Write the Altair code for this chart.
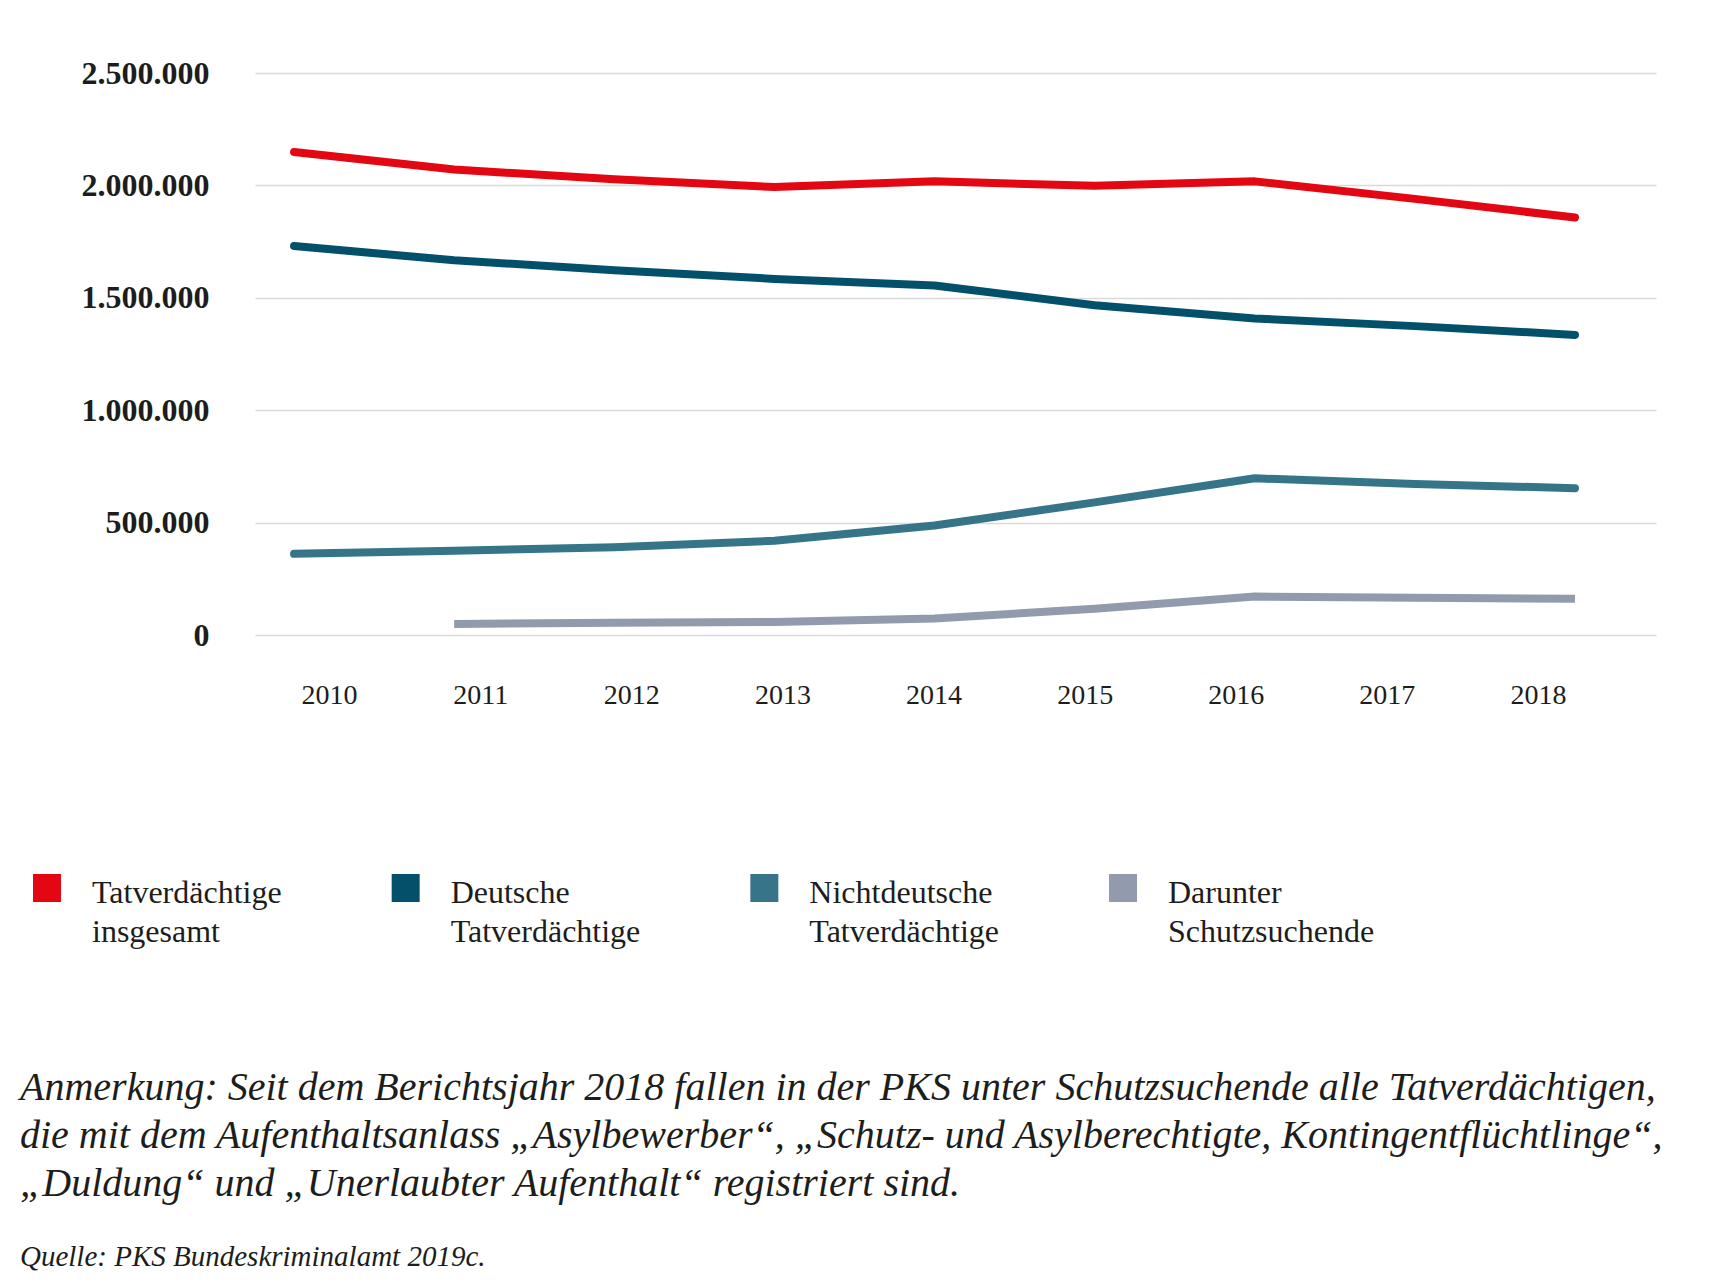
import altair as alt
import pandas as pd

years = [2010, 2011, 2012, 2013, 2014, 2015, 2016, 2017, 2018]
series_names = ["Tatverdächtige insgesamt", "Deutsche Tatverdächtige",
                "Nichtdeutsche Tatverdächtige", "Darunter Schutzsuchende"]
legend_labels = ["Tatverdächtige\ninsgesamt", "Deutsche\nTatverdächtige",
                 "Nichtdeutsche\nTatverdächtige", "Darunter\nSchutzsuchende"]
total = [2149000, 2071000, 2027000, 1993000, 2018000, 1998000, 2018000, 1940000, 1857000]
german = [1730000, 1667000, 1623000, 1584000, 1555000, 1467000, 1408000, 1374000, 1335000]
nongerman = [361000, 375000, 390000, 419000, 487000, 590000, 697000, 672000, 653000]
protection = [None, 49000, 54000, 58000, 73000, 117000, 171000, 166000, 161000]
colors = ["#E30613", "#03506B", "#367489", "#919BAD"]
y_ticks = [0, 500000, 1000000, 1500000, 2000000, 2500000]

note_lines = [
    "Anmerkung: Seit dem Berichtsjahr 2018 fallen in der PKS unter Schutzsuchende alle Tatverdächtigen,",
    "die mit dem Aufenthaltsanlass „Asylbewerber“, „Schutz- und Asylberechtigte, Kontingentflüchtlinge“,",
    "„Duldung“ und „Unerlaubter Aufenthalt“ registriert sind.",
]
source_text = "Quelle: PKS Bundeskriminalamt 2019c."

rows = []
for name, vals in zip(series_names, [total, german, nongerman, protection]):
    for yr, v in zip(years, vals):
        if v is not None:
            rows.append({"year": yr, "value": v, "series": name})
df = pd.DataFrame(rows)
legend_df = pd.DataFrame({"series": series_names, "label": legend_labels})
note_df = pd.DataFrame({"t": ["\n".join(note_lines)]})
source_df = pd.DataFrame({"t": [source_text]})

SERIF = "Liberation Serif"
TXT = "#1d1d1b"

color = alt.Color("series:N", scale=alt.Scale(domain=series_names, range=colors), legend=None)

y_enc = alt.Y(
    "value:Q",
    scale=alt.Scale(domain=[0, 2500000], nice=False),
    axis=alt.Axis(
        values=y_ticks, title=None, grid=True, gridColor="#dadada", gridWidth=1.5,
        domain=False, ticks=False, labelFont=SERIF, labelFontWeight="bold",
        labelFontSize=32, labelColor=TXT, labelPadding=46,
        labelExpr="replace(format(datum.value, ','), regexp(',', 'g'), '.')",
    ),
)

x_line = alt.X("year:Q", scale=alt.Scale(domain=[2009.756, 2018.506], nice=False, zero=False), axis=None)

base = alt.Chart(df)
lines_round = base.transform_filter(alt.datum.series != series_names[3]).mark_line(
    strokeWidth=8, strokeCap="round", strokeJoin="round"
).encode(x=x_line, y=y_enc, color=color, detail="series:N")
lines_butt = base.transform_filter(alt.datum.series == series_names[3]).mark_line(
    strokeWidth=8, strokeCap="butt", strokeJoin="round"
).encode(x=x_line, y="value:Q", color=color)

axis_layer = base.mark_point(opacity=0).encode(
    x=alt.X("year:Q", scale=alt.Scale(domain=[2009.51, 2018.781], nice=False, zero=False),
            axis=alt.Axis(values=years, format="d", orient="bottom", title=None, grid=False,
                          domain=False, ticks=False, labelFont=SERIF, labelFontSize=28,
                          labelColor=TXT, labelPadding=46)),
    y="value:Q",
)

leg_x = alt.X("series:N", scale=alt.Scale(type="point", domain=series_names, range=[-208, 868], padding=0), axis=None)
leg_sq = alt.Chart(legend_df).mark_square(size=784, opacity=1).encode(
    x=leg_x, y=alt.value(815), color=color)
leg_txt = alt.Chart(legend_df).mark_text(
    align="left", baseline="top", lineBreak="\n", dx=45, font=SERIF, fontSize=32,
    lineHeight=39, color=TXT
).encode(x=leg_x, y=alt.value(805), text="label:N")

note = alt.Chart(note_df).mark_text(
    align="left", baseline="top", lineBreak="\n", font=SERIF, fontStyle="italic",
    fontSize=40, lineHeight=48, color=TXT
).encode(x=alt.value(-235), y=alt.value(995), text="t:N")

source = alt.Chart(source_df).mark_text(
    align="left", baseline="top", font=SERIF, fontStyle="italic", fontSize=29, color=TXT
).encode(x=alt.value(-235), y=alt.value(1170), text="t:N")

chart = alt.layer(axis_layer, lines_round, lines_butt, leg_sq, leg_txt, note, source).resolve_scale(
    x="independent"
).properties(
    width=1401, height=562,
    autosize=alt.AutoSizeParams(type="none"),
    padding={"left": 247, "top": 65, "right": 40, "bottom": 640},
).configure_view(strokeOpacity=0, strokeWidth=0)

chart.save("out.html", embed_options={"renderer": "svg", "actions": False})
